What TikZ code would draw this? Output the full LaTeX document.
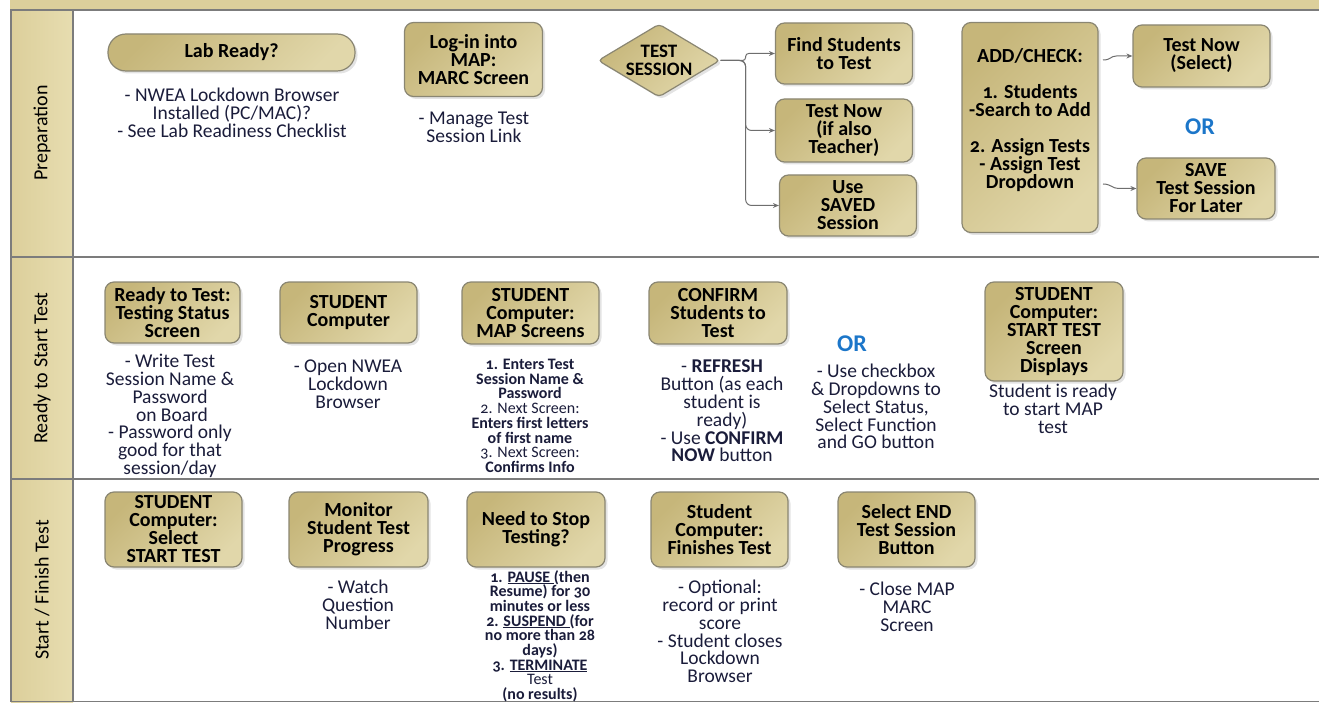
\documentclass[tikz,border=0pt]{standalone}
\usepackage{fontspec}
\setmainfont{Carlito}[Numbers=OldStyle]
\usetikzlibrary{shapes.geometric,shadows,arrows.meta}
\definecolor{tanA}{HTML}{C6B67A}
\definecolor{tanB}{HTML}{E1D7AA}
\definecolor{laneA}{HTML}{DCCF9B}
\definecolor{laneB}{HTML}{E7DDB0}
\definecolor{laneline}{HTML}{7C7C7C}
\definecolor{boxline}{HTML}{8A8672}
\definecolor{desctext}{HTML}{1A1C3A}
\definecolor{orblue}{HTML}{1C76C9}
\definecolor{connc}{HTML}{6E6E6E}
\newcommand\myboxfont{\bfseries\fontsize{20}{18}\selectfont}
\newcommand\mydescfont{\fontsize{19.5}{17.8}\selectfont}
\newcommand\mysmallfont{\bfseries\fontsize{16}{14.7}\selectfont}
\newcommand\mylanefont{\fontsize{20}{22}\selectfont}
\tikzset{
  box/.style={draw=boxline, line width=1.2pt, rounded corners=9pt,
    top color=tanA, bottom color=tanB, shading angle=45,
    drop shadow={shadow xshift=2.5pt, shadow yshift=-2.5pt, opacity=0.22},
    align=center, font=\myboxfont, inner sep=1pt, text=black},
  desc/.style={anchor=north, align=center, inner sep=0pt, font=\mydescfont, text=desctext},
  smalldesc/.style={anchor=north, align=center, inner sep=0pt, font=\mysmallfont, text=desctext},
  lanelabel/.style={rotate=90, font=\mylanefont, text=black},
  ortext/.style={font=\bfseries\fontsize{24}{24}\selectfont, text=orblue},
  conn/.style={draw=connc, line width=1pt, -{Stealth[length=6pt,width=5pt]}},
}
\begin{document}
\begin{tikzpicture}[x=1pt,y=-1pt]
\useasboundingbox (0,0) rectangle (1319,703);
% swimlane frame
\fill[laneA] (10,0) rectangle (1319,9.5);
\shade[left color=laneA, right color=laneB] (11,10) rectangle (73,702);
\begin{scope}[draw=laneline, line width=1.4pt]
  \draw (10,10) -- (1319,10);
  \draw (11,10) -- (11,702);
  \draw (73,10) -- (73,702);
  \draw (11,257) -- (1319,257);
  \draw (11,479) -- (1319,479);
  \draw (11,701.5) -- (1319,701.5);
\end{scope}
\node[lanelabel] (l1) at (42,133) {Preparation};
\node[lanelabel] (l2) at (42,368) {Ready to Start Test};
\node[lanelabel] (l3) at (42,590) {Start / Finish Test};

% ---------- Preparation ----------
\node[box, rounded corners=18pt, minimum width=247pt, minimum height=37pt] (lab) at (231.5,52.5) {Lab Ready?};
\node[desc] (labd) at (232,88) {- NWEA Lockdown Browser\\Installed (PC/MAC)?\\- See Lab Readiness Checklist};
\node[box, minimum width=138pt, minimum height=74pt] (login) at (473.5,59.5) {Log-in into\\MAP:\\MARC Screen};
\node[desc] (logind) at (474,112) {- Manage Test\\Session Link};
\node[box, diamond, rounded corners=4pt, aspect=1.65, minimum width=122pt, minimum height=73pt, inner sep=0pt, font=\bfseries\fontsize{19}{18}\selectfont] (ts) at (659,60.5) {TEST\\SESSION};
\node[box, minimum width=137pt, minimum height=61pt] (find) at (844,53.5) {Find Students\\to Test};
\node[box, minimum width=137pt, minimum height=63pt] (tnow) at (844,130.5) {Test Now\\(if also\\Teacher)};
\node[box, minimum width=137pt, minimum height=61pt] (saved) at (848,205.5) {Use\\SAVED\\Session};
\node[box, minimum width=136pt, minimum height=210pt] (add) at (1030,127.5) {ADD/CHECK:\\[18pt]1. Students\\-Search to Add\\[18pt]2. Assign Tests\\- Assign Test\\Dropdown\\\mbox{}};
\node[box, minimum width=137pt, minimum height=62pt] (tsel) at (1201.5,56) {Test Now\\(Select)};
\node[ortext] (or1) at (1200,127) {OR};
\node[box, minimum width=138pt, minimum height=61pt] (save) at (1206,188.5) {SAVE\\Test Session\\For Later};

\draw[conn, rounded corners=3pt] (ts.east) -- ++(25,0) |- (find.west);
\draw[conn, rounded corners=6pt] (ts.east) -- ++(25,0) |- (tnow.west);
\draw[conn, rounded corners=6pt] (ts.east) -- ++(25,0) |- (saved.west);
\coordinate (a1) at (1103,60);
\coordinate (a2) at (1103,184);
\draw[conn] (a1) .. controls +(8,0) and +(-6,0) .. ([xshift=-16pt]tsel.west) -- (tsel.west);
\draw[conn] (a2) .. controls +(8,0) and +(-6,0) .. ([xshift=-18pt]save.west) -- (save.west);

% ---------- Ready to Start Test ----------
\node[box, minimum width=135pt, minimum height=61pt] (rtt) at (172.5,312.5) {Ready to Test:\\Testing Status\\Screen};
\node[desc] (rttd) at (170,354) {- Write Test\\Session Name \&\\Password\\\hspace{4pt}on Board\\- Password only\\good for that\\session/day};
\node[box, minimum width=137pt, minimum height=61pt] (stc) at (348.5,312.5) {STUDENT\\Computer};
\node[desc] (stcd) at (348,360) {- Open NWEA\\Lockdown\\Browser};
\node[box, minimum width=137pt, minimum height=62pt] (map) at (530.5,313) {STUDENT\\Computer:\\MAP Screens};
\node[smalldesc] (mapd) at (530,359) {1. Enters Test\\Session Name \&\\Password\\{\mdseries 2. Next Screen:}\\Enters first letters\\of first name\\{\mdseries 3. Next Screen:}\\Confirms Info};
\node[box, minimum width=138pt, minimum height=62pt] (conf) at (718,313) {CONFIRM\\Students to\\Test};
\node[desc] (confd) at (722,360) {- \textbf{REFRESH}\\Button (as each\\student is\\ready)\\- Use \textbf{CONFIRM}\\\textbf{NOW} button};
\node[ortext] (or2) at (852,344) {OR};
\node[desc] (ord) at (876,364) {- Use checkbox\\\& Dropdowns to\\Select Status,\\Select Function\\and GO button};
\node[box, minimum width=138pt, minimum height=99pt] (sts) at (1054,331.5) {STUDENT\\Computer:\\START TEST\\Screen\\Displays};
\node[desc] (stsd) at (1053,384) {Student is ready\\to start MAP\\test};

% ---------- Start / Finish Test ----------
\node[box, minimum width=137pt, minimum height=75pt] (sel) at (173.5,529.5) {STUDENT\\Computer:\\Select\\START TEST};
\node[box, minimum width=139pt, minimum height=75pt] (mon) at (358.5,529.5) {Monitor\\Student Test\\Progress};
\node[desc] (mond) at (358,580) {- Watch\\Question\\Number};
\node[box, minimum width=138pt, minimum height=75pt] (stop) at (536,529.5) {Need to Stop\\Testing?};
\node[smalldesc] (stopd) at (540,570) {1. \underline{PAUSE }(then\\Resume) for 30\\minutes or less\\2. \underline{SUSPEND }(for\\no more than 28\\days)\\3. \underline{TERMINATE}\\{\mdseries Test}\\(no results)};
\node[box, minimum width=137pt, minimum height=75pt] (fin) at (719.5,529.5) {Student\\Computer:\\Finishes Test};
\node[desc] (find2) at (720,580) {- Optional:\\record or print\\score\\- Student closes\\Lockdown\\Browser};
\node[box, minimum width=137pt, minimum height=75pt] (endb) at (906.5,529.5) {Select END\\Test Session\\Button};
\node[desc] (endd) at (907,582) {- Close MAP\\MARC\\Screen};
\end{tikzpicture}
\end{document}
